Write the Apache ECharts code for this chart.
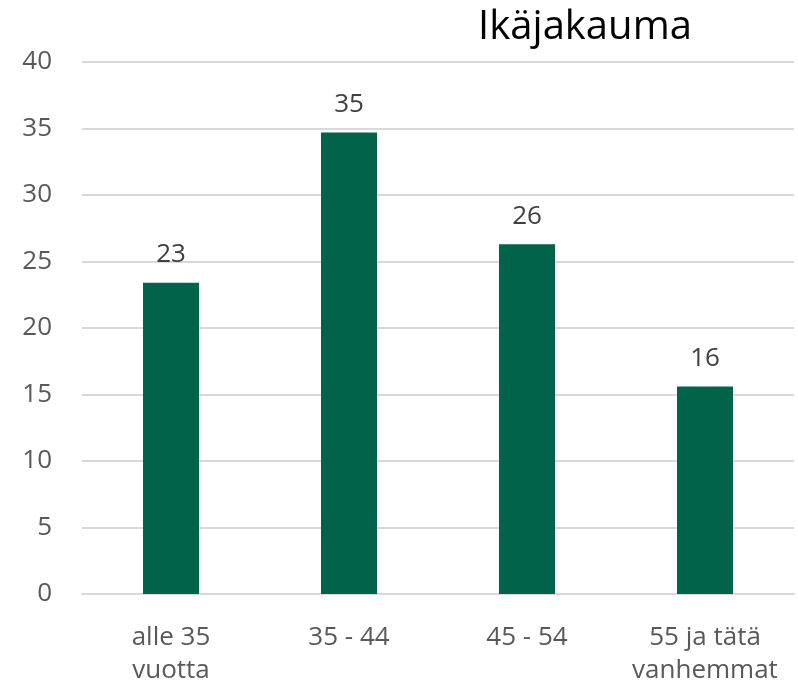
<!DOCTYPE html>
<html>
<head>
<meta charset="utf-8">
<script src="https://cdn.jsdelivr.net/npm/echarts@6/dist/echarts.min.js"></script>
<style>
  html, body { margin: 0; padding: 0; background: #fff; }
  #main { width: 798px; height: 687px; }
</style>
</head>
<body>
<div id="main"></div>
<script>
var categories = ["alle 35\nvuotta", "35 - 44", "45 - 54", "55 ja tätä\nvanhemmat"];
var values = [23.4, 34.7, 26.3, 15.6];

var myChart = echarts.init(document.getElementById("main"));

myChart.setOption({
  animation: false,
  title: {
    text: "Ikäjakauma",
    left: 580,
    textAlign: "center",
    top: 3,
    textStyle: {
      fontFamily: "Open Sans",
      fontSize: 40,
      fontWeight: "normal",
      color: "#000"
    }
  },
  grid: { left: 82, right: 4, top: 62, bottom: 93, outerBoundsMode: "none" },
  xAxis: {
    type: "category",
    data: categories,
    axisLine: { lineStyle: { color: "#d9d9d9", width: 2 } },
    axisTick: { show: false },
    axisLabel: {
      color: "#595959",
      fontFamily: "Open Sans",
      fontSize: 26,
      lineHeight: 33,
      margin: 27,
      interval: 0
    }
  },
  yAxis: {
    type: "value",
    min: 0,
    max: 40,
    interval: 5,
    axisLine: { show: false },
    axisTick: { show: false },
    splitLine: { lineStyle: { color: "#d9d9d9", width: 2 } },
    axisLabel: {
      color: "#595959",
      fontFamily: "Open Sans",
      fontSize: 26,
      margin: 30
    }
  },
  series: [
    {
      type: "bar",
      data: values,
      barWidth: 56,
      itemStyle: { color: "#00634a" },
      label: {
        show: true,
        position: "top",
        distance: 15,
        color: "#404040",
        fontFamily: "Open Sans",
        fontSize: 26,
        formatter: function (p) { return Math.round(p.value); }
      }
    }
  ]
});
</script>
</body>
</html>
